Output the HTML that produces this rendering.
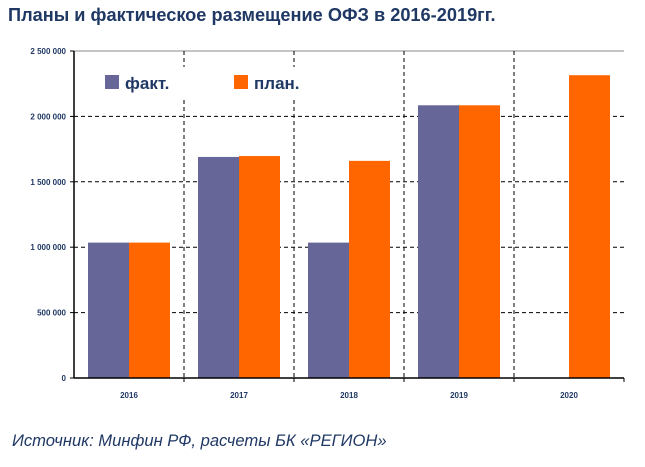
<!DOCTYPE html>
<html><head><meta charset="utf-8"><style>
body{margin:0;background:#fff;width:645px;height:462px;overflow:hidden;font-family:"Liberation Sans",sans-serif}
</style></head><body>
<svg width="645" height="462" xmlns="http://www.w3.org/2000/svg">
<text x="8" y="21" font-size="18.2" font-weight="bold" fill="#1f3864">Планы и фактическое размещение ОФЗ в 2016-2019гг.</text>
<g id="grid"></g><g id="bars"></g><g id="axes"></g>
<g>
<rect x="100" y="67" width="205" height="30" fill="#fff"/>
<rect x="105" y="75" width="14" height="14" fill="#666699"/>
<text x="125" y="89" font-size="17" font-weight="bold" fill="#1f3864">факт.</text>
<rect x="234" y="75" width="14" height="14" fill="#ff6600"/>
<text x="254" y="89" font-size="17" font-weight="bold" fill="#1f3864">план.</text>
</g>
<text x="12" y="446" font-size="16.6" font-style="italic" fill="#1f3864">Источник: Минфин РФ, расчеты БК «РЕГИОН»</text>
</svg>
<script>
const categories=["2016","2017","2018","2019","2020"];
const factValues=[1035000,1690000,1035000,2085000,null];
const planValues=[1035000,1697000,1660000,2085000,2315000];
const yTicks=[0,500000,1000000,1500000,2000000,2500000];
const yTickLabels=["0","500 000","1 000 000","1 500 000","2 000 000","2 500 000"];
const NS="http://www.w3.org/2000/svg";
const x0=74,x1=624,y0=378,y1=51,yMax=2500000;
const cw=(x1-x0)/categories.length;
const ys=v=>y0-(v/yMax)*(y0-y1);
function mk(t,a,p){const e=document.createElementNS(NS,t);for(const k in a)e.setAttribute(k,a[k]);p.appendChild(e);return e;}
const grid=document.getElementById('grid'),bars=document.getElementById('bars'),axes=document.getElementById('axes');
yTicks.forEach((v,i)=>{
  const y=ys(v);
  if(v>0&&v<yMax){const l=mk('line',{x1:x0,x2:x1,y1:y,y2:y,stroke:'#000','stroke-width':1,'stroke-dasharray':'4,3'},grid);
  
  }
  const tk=mk('line',{x1:x0-4,x2:x0,y1:y,y2:y,stroke:'#000'},axes);
  
  
  const t=mk('text',{x:x0-8,y:y+3,'font-size':8,'font-weight':'bold','text-anchor':'end',fill:'#1f3864'},axes);
  t.textContent=yTickLabels[i];
  
  
});
const topBorder=mk('line',{x1:x0,x2:x1,y1:y1,y2:y1,stroke:'#888'},grid);


categories.forEach((c,i)=>{
  const cx=x0+cw*i;
  if(i>0){const l=mk('line',{x1:cx,x2:cx,y1:y1,y2:y0,stroke:'#000','stroke-dasharray':'4,3'},grid);
  
  }
  const bw=41,start=cx+14;
  if(factValues[i]!=null){const r=mk('rect',{x:start,y:ys(factValues[i]),width:bw,height:y0-ys(factValues[i]),fill:'#666699'},bars);
  
  }
  if(planValues[i]!=null){const r=mk('rect',{x:start+bw,y:ys(planValues[i]),width:bw,height:y0-ys(planValues[i]),fill:'#ff6600'},bars);
  
  }
  const tk=mk('line',{x1:cx+cw,x2:cx+cw,y1:y0,y2:y0+4,stroke:'#000'},axes);
  
  
  const t=mk('text',{x:cx+cw/2,y:y0+20,'font-size':8,'font-weight':'bold','text-anchor':'middle',fill:'#1f3864'},axes);
  t.textContent=c;
  
  
});
const ya=mk('line',{x1:x0,x2:x0,y1:y1,y2:y0,stroke:'#000','stroke-width':1.5},axes);


const xa=mk('line',{x1:x0,x2:x1,y1:y0,y2:y0,stroke:'#000','stroke-width':1.5},axes);


</script>
</body></html>
